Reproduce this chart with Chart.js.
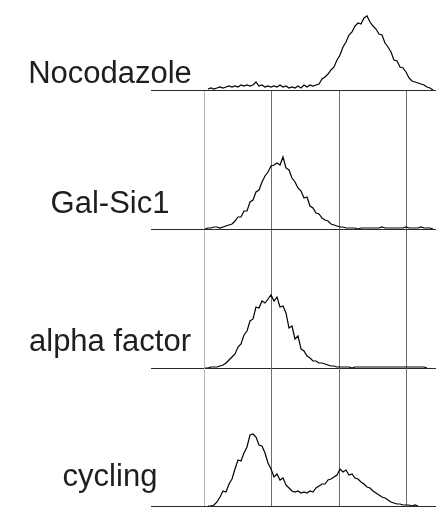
<!DOCTYPE html>
<html>
<head>
<meta charset="utf-8">
<script src="https://cdn.jsdelivr.net/npm/chart.js@4/dist/chart.umd.min.js"></script>
<style>
html,body{margin:0;padding:0;background:#ffffff;}
#wrap{position:relative;width:445px;height:508px;overflow:hidden;background:#ffffff;}
canvas.panel{position:absolute;left:0;}
</style>
</head>
<body>
<div id="wrap">
  <canvas class="panel" id="c0" width="445" height="140"></canvas>
  <canvas class="panel" id="c1" width="445" height="140"></canvas>
  <canvas class="panel" id="c2" width="445" height="140"></canvas>
  <canvas class="panel" id="c3" width="445" height="140"></canvas>
</div>
<script>
// ---- data (DNA-content channel vs. cell count) ----
const samples = ['Nocodazole', 'Gal-Sic1', 'alpha factor', 'cycling'];

const channels = [
  54, 57, 60, 63, 66, 69, 72, 75, 78, 81,
  84, 87, 90, 93, 96, 99, 102, 105, 108, 111,
  114, 117, 120, 123, 126, 129, 132, 135, 138, 141,
  144, 147, 150, 153, 156, 159, 162, 165, 168, 171,
  174, 177, 180, 183, 186, 189, 192, 195, 198, 201,
  204, 207, 210, 213, 216, 219, 222, 225, 228, 231,
  234, 237, 240, 243, 246, 249, 252, 255, 258, 261,
  264, 267, 270, 273, 276, 279, 282
];

const nocodazole = [
  null, 1, 2, 1, 2, 3, 2, 3, 4, 3,
  4, 3, 5, 4, 5, 4, 5, 8, 4, 5,
  3, 4, 3, 4, 3, 5, 3, 4, 2, 3,
  2, 4, 2, 5, 3, 5, 4, 5, 6, 11,
  13, 16, 20, 23, 30, 35, 43, 48, 55, 58,
  64, 67, 66, 72, 74, 68, 64, 61, 56, 55,
  47, 43, 38, 30, 29, 23, 22, 18, 12, 9,
  8, 7, 6, 5, 3, 2, 0
];

const galSic1 = [
  0, 1, 1, 2, 2, 1, 2, 3, 4, 5,
  8, 12, 12, 18, 18, 27, 29, 37, 39, 47,
  53, 57, 63, 64, 66, 64, 72, 61, 59, 51,
  47, 41, 38, 31, 32, 23, 21, 16, 15, 11,
  9, 8, 5, 4, 3, 2, 2, 1, 1, 1,
  1, 0, 1, 1, 1, 1, 1, 1, 1, 2,
  1, 1, 1, 1, 1, 1, 1, 2, 1, 1,
  1, 1, 2, 1, 1, 1, 0
];

const alphaFactor = [
  0, 0, 1, 1, 1, 2, 3, 5, 8, 11,
  14, 21, 24, 33, 37, 47, 49, 61, 60, 67,
  65, 69, 73, 67, 71, 61, 62, 55, 40, 42,
  29, 32, 19, 17, 12, 10, 7, 7, 5, 5,
  4, 3, 2, 2, 1, 1, 1, 1, 1, 0,
  1, 1, 1, 1, 1, 1, 1, 1, 1, 1,
  1, 1, 1, 1, 1, 1, 1, 1, 1, 1,
  1, 1, 1, 1, 0, null, null
];

const cycling = [
  null, 0, 0, 1, 4, 9, 15, 14, 22, 27,
  37, 46, 45, 53, 59, 71, 72, 69, 61, 60,
  53, 43, 37, 29, 32, 26, 28, 21, 18, 15,
  14, 15, 13, 14, 13, 15, 14, 18, 20, 22,
  22, 26, 27, 29, 31, 37, 34, 36, 31, 32,
  28, 27, 24, 22, 19, 18, 15, 13, 11, 9,
  8, 6, 4, 3, 2, 2, 1, 1, 1, 0,
  1, 0, null, null, null, null, null
];

const gridChannels = [53, 120, 188, 255];
const channelRange = [0, 284];
const countRange = [0, 138];

// ---- layout ----
const series = [nocodazole, galSic1, alphaFactor, cycling];
const panelTops = [-48, 91, 230, 368];
const labelRise = [7, 16, 17, 20];
const labelCenterX = 110;

const sampleLabel = {
  id: 'sampleLabel',
  afterDraw(chart, args, opts) {
    const ctx = chart.ctx;
    ctx.save();
    ctx.font = '31px "Liberation Sans", Arial, sans-serif';
    ctx.fillStyle = '#1e1e1e';
    ctx.textAlign = 'center';
    ctx.textBaseline = 'alphabetic';
    ctx.fillText(opts.text, labelCenterX, chart.chartArea.bottom - opts.rise);
    ctx.restore();
  }
};

series.forEach((vals, i) => {
  const cv = document.getElementById('c' + i);
  cv.style.top = panelTops[i] + 'px';
  new Chart(cv.getContext('2d'), {
    type: 'line',
    data: {
      datasets: [{
        label: samples[i],
        data: channels.map((c, k) => ({ x: c, y: vals[k] })),
        borderColor: '#000000',
        borderWidth: 1.2,
        pointRadius: 0,
        tension: 0,
        fill: false,
        spanGaps: false
      }]
    },
    options: {
      responsive: false,
      animation: false,
      devicePixelRatio: 1,
      layout: { padding: { left: 151, right: 10, top: 0, bottom: 2 } },
      plugins: {
        legend: { display: false },
        tooltip: { enabled: false },
        sampleLabel: { text: samples[i], rise: labelRise[i] }
      },
      scales: {
        x: {
          type: 'linear',
          min: channelRange[0],
          max: channelRange[1],
          afterBuildTicks: (axis) => { axis.ticks = gridChannels.map(v => ({ value: v })); },
          ticks: { display: false },
          grid: {
            drawTicks: false,
            lineWidth: 1,
            color: (c) => i === 0 ? 'rgba(0,0,0,0)' : (c.index === 0 ? '#b4b4b4' : '#6e6e6e')
          },
          border: { display: true, color: '#2a2a2a', width: 1 }
        },
        y: { display: false, min: countRange[0], max: countRange[1] }
      }
    },
    plugins: [sampleLabel]
  });
});
</script>
</body>
</html>
